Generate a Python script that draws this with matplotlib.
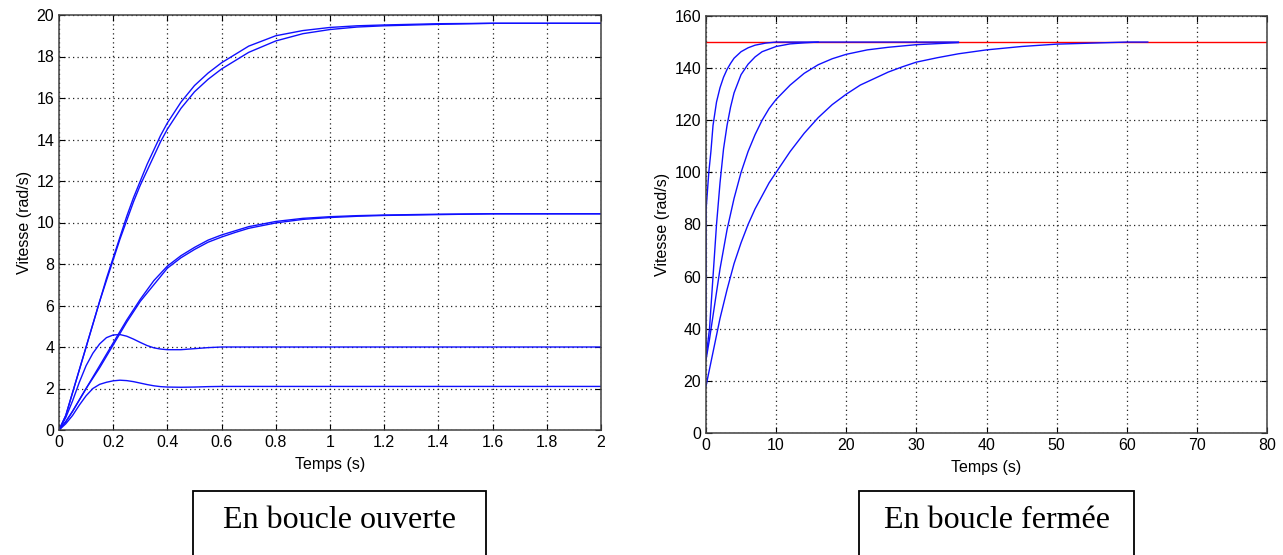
import matplotlib
matplotlib.use("Agg")
import matplotlib.pyplot as plt
from matplotlib.patches import Rectangle

# ---------------- Open loop data (Temps s, Vitesse rad/s) ----------------
t_ol = [0, 0.025, 0.05, 0.075, 0.1, 0.125, 0.15, 0.175, 0.2, 0.225, 0.25, 0.275, 0.3, 0.325,
        0.35, 0.375, 0.4, 0.45, 0.5, 0.55, 0.6, 0.65, 0.7, 0.8, 0.9, 1.0, 1.1, 1.2, 1.4, 1.6, 2.0]
ol_a1 = [0, 0.7, 1.8, 2.9, 4.0, 5.1, 6.2, 7.3, 8.3, 9.3, 10.3, 11.2, 12.0, 12.8,
         13.5, 14.2, 14.8, 15.8, 16.6, 17.2, 17.7, 18.1, 18.5, 19.0, 19.25, 19.4, 19.48, 19.52, 19.58, 19.6, 19.6]
ol_a2 = [0, 0.7, 1.8, 2.9, 4.0, 5.1, 6.2, 7.2, 8.2, 9.2, 10.1, 11.0, 11.8, 12.5,
         13.2, 13.9, 14.5, 15.5, 16.3, 16.9, 17.4, 17.8, 18.2, 18.75, 19.1, 19.3, 19.42, 19.48, 19.55, 19.6, 19.6]
ol_b1 = [0, 0.4, 0.9, 1.45, 2.0, 2.55, 3.1, 3.65, 4.2, 4.75, 5.3, 5.8, 6.3, 6.75,
         7.2, 7.55, 7.9, 8.4, 8.8, 9.15, 9.4, 9.6, 9.8, 10.05, 10.2, 10.28, 10.33, 10.36, 10.4, 10.42, 10.42]
ol_b2 = [0, 0.4, 0.9, 1.45, 2.0, 2.5, 3.0, 3.55, 4.1, 4.65, 5.2, 5.7, 6.2, 6.6,
         7.0, 7.4, 7.8, 8.3, 8.7, 9.05, 9.3, 9.52, 9.72, 9.98, 10.15, 10.24, 10.3, 10.34, 10.38, 10.42, 10.42]
ol_c = [0, 0.6, 1.4, 2.3, 3.1, 3.7, 4.15, 4.45, 4.58, 4.6, 4.52, 4.38, 4.22, 4.07,
        3.96, 3.9, 3.87, 3.87, 3.92, 3.97, 4.0, 4.0, 4.0, 4.0, 4.0, 4.0, 4.0, 4.0, 4.0, 4.0, 4.0]
ol_d = [0, 0.3, 0.7, 1.2, 1.65, 2.0, 2.2, 2.3, 2.37, 2.4, 2.38, 2.33, 2.26, 2.19,
        2.13, 2.09, 2.07, 2.06, 2.07, 2.09, 2.1, 2.1, 2.1, 2.1, 2.1, 2.1, 2.1, 2.1, 2.1, 2.1, 2.1]

# ---------------- Closed loop data ----------------
t_c1 = [0, 0.02, 0.4, 0.7, 1.0, 1.5, 2.0, 2.5, 3.0, 3.5, 4.0, 5.0, 6.0, 7.0, 8.5, 10, 16]
c1 = [29, 86, 100, 108, 118, 127, 132.5, 136.5, 139.5, 141.8, 143.8, 146.3, 147.8, 148.8, 149.6, 150, 150]
t_c2 = [0, 0.5, 1.0, 1.5, 2.0, 2.5, 3.0, 3.5, 4.0, 5.0, 6.0, 7.0, 8.0, 10, 12, 14, 16, 36]
c2 = [29, 40, 60, 80, 96, 109, 118, 125, 130.5, 137.5, 141.5, 144.3, 146.3, 148.3, 149.3, 149.7, 150, 150]
t_c3 = [0, 0.5, 1, 2, 3, 4, 5, 6, 7, 8, 9, 10, 12, 14, 16, 18, 20, 23, 26, 30, 36]
c3 = [28, 36, 45, 63, 78, 90, 100, 108, 114.5, 120, 124.5, 128, 133.5, 138, 141.3, 143.6, 145.3, 147, 148, 149, 149.8]
t_c4 = [0, 1, 2, 3, 4, 5, 6, 7, 8, 9, 10, 12, 14, 16, 18, 20, 22, 24, 26, 28, 30,
        33, 36, 40, 45, 50, 55, 60, 63]
c4 = [18, 31, 44, 55, 65, 73, 80, 86, 91, 96, 100, 108, 115, 121, 126, 130, 133.5, 136, 138.5, 140.5, 142.3,
      144, 145.5, 147, 148.3, 149.2, 149.6, 150, 150]
ref_t = [0, 80]
ref_v = [150, 150]

ol_xticks = [0, 0.2, 0.4, 0.6, 0.8, 1, 1.2, 1.4, 1.6, 1.8, 2]
ol_xlabels = ["0", "0.2", "0.4", "0.6", "0.8", "1", "1.2", "1.4", "1.6", "1.8", "2"]
ol_yticks = [0, 2, 4, 6, 8, 10, 12, 14, 16, 18, 20]
cl_xticks = [0, 10, 20, 30, 40, 50, 60, 70, 80]
cl_yticks = [0, 20, 40, 60, 80, 100, 120, 140, 160]

W, H = 1283, 555
fig = plt.figure(figsize=(W / 100, H / 100), dpi=100)
plt.rcParams["font.family"] = ["Liberation Sans", "DejaVu Sans"]

def px_axes(x0, y0, x1, y1):
    return fig.add_axes([x0 / W, 1 - y1 / H, (x1 - x0) / W, (y1 - y0) / H])

blue = "#1010ff"
FS = 11.5

def style(ax):
    ax.grid(True, linestyle=(0, (1, 2.6)), color="#222222", linewidth=0.9)
    ax.tick_params(direction="in", top=True, right=True, length=4, labelsize=FS, width=0.8, pad=3.5)
    for s in ax.spines.values():
        s.set_linewidth(1.1)
        s.set_color("#404040")

ax1 = px_axes(59, 15, 601, 430)
for y in [ol_a1, ol_a2, ol_b1, ol_b2, ol_c, ol_d]:
    ax1.plot(t_ol, y, color=blue, linewidth=1.0)
ax1.set_xlim(0, 2)
ax1.set_ylim(0, 20)
ax1.set_xticks(ol_xticks)
ax1.set_xticklabels(ol_xlabels)
ax1.set_yticks(ol_yticks)
ax1.set_xlabel("Temps (s)", fontsize=FS, labelpad=5)
ax1.set_ylabel("Vitesse (rad/s)", fontsize=FS, labelpad=3)
style(ax1)

ax2 = px_axes(706, 16, 1267, 433)
ax2.plot(ref_t, ref_v, color="red", linewidth=1.0)
for tt, y in [(t_c1, c1), (t_c2, c2), (t_c3, c3), (t_c4, c4)]:
    ax2.plot(tt, y, color=blue, linewidth=1.0)
ax2.set_xlim(0, 80)
ax2.set_ylim(0, 160)
ax2.set_xticks(cl_xticks)
ax2.set_yticks(cl_yticks)
ax2.set_xlabel("Temps (s)", fontsize=FS, labelpad=5)
ax2.set_ylabel("Vitesse (rad/s)", fontsize=FS, labelpad=3)
style(ax2)

# caption boxes
for (x0, x1, txt) in [(193, 486, "En boucle ouverte"), (859, 1134, "En boucle fermée")]:
    fig.patches.append(Rectangle((x0 / W, -0.01), (x1 - x0) / W, (H - 491) / H + 0.01,
                                 transform=fig.transFigure, fill=False,
                                 edgecolor="black", linewidth=1.3))
    fig.text((x0 + x1) / 2 / W, 1 - 521 / H, txt, ha="center", va="center",
             family="Liberation Serif", fontsize=23)

fig.savefig("out.png", dpi=100)
